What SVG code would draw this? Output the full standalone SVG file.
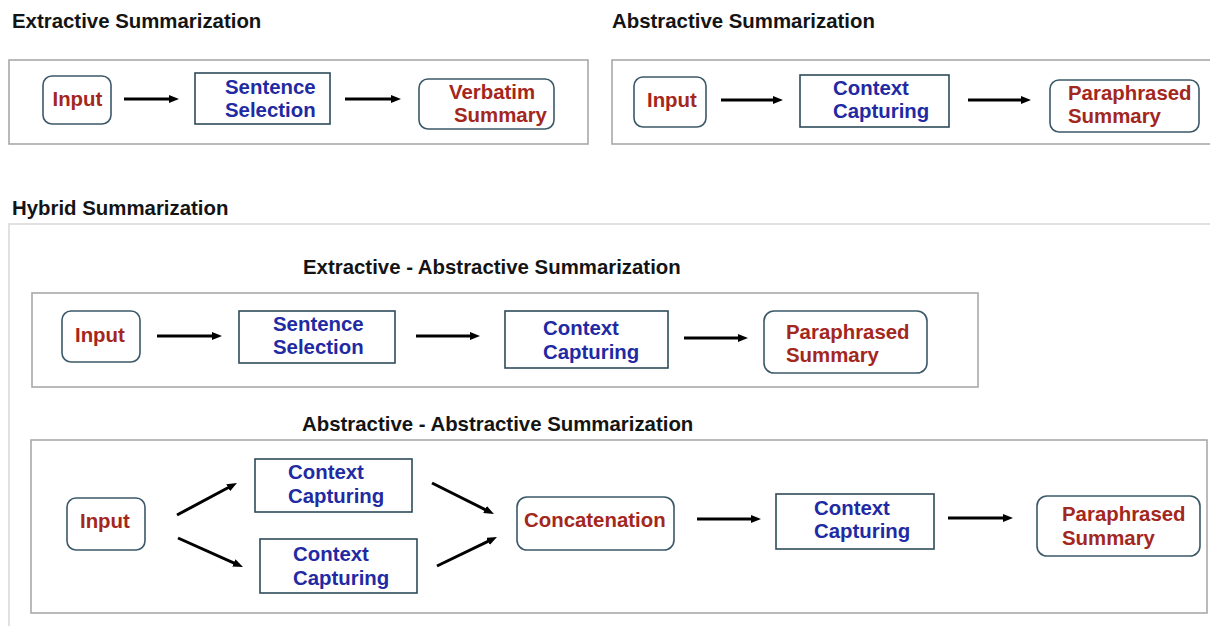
<svg xmlns="http://www.w3.org/2000/svg" width="1210" height="626" viewBox="0 0 1210 626">
<style>
.title{font-family:"Liberation Sans",Arial,sans-serif;font-weight:bold;font-size:20.4px;fill:#141414}
.red{font-family:"Liberation Sans",Arial,sans-serif;font-weight:bold;font-size:20.4px;fill:#a3271d}
.blue{font-family:"Liberation Sans",Arial,sans-serif;font-weight:bold;font-size:20.4px;fill:#1f2aa3}
.outer{fill:none;stroke:#a9a9a9;stroke-width:1.6}
.hyb{fill:none;stroke:#dadada;stroke-width:1.6}
.rnode{fill:#fff;stroke:#3b5868;stroke-width:1.6}
.snode{fill:#fff;stroke:#2e4b5a;stroke-width:1.6}
.arr{fill:none;stroke:#000;stroke-width:3;marker-end:url(#ah)}
</style>
<defs>
<marker id="ah" markerUnits="userSpaceOnUse" viewBox="0 0 10 8" markerWidth="10" markerHeight="8" refX="4" refY="4" orient="auto">
<path d="M0,0 L10,4 L0,8 z" fill="#000"/>
</marker>
</defs>
<rect width="1210" height="626" fill="#fff"/>

<g id="sections">
<text class="title" x="12" y="28">Extractive Summarization</text>
<rect class="outer" x="9" y="60" width="579" height="84"/>
<text class="title" x="612" y="28">Abstractive Summarization</text>
<rect class="outer" x="612" y="60" width="610" height="84"/>
<text class="title" x="12" y="215">Hybrid Summarization</text>
<rect class="hyb" x="9" y="224" width="1220" height="420"/>
<text class="title" x="303" y="274">Extractive - Abstractive Summarization</text>
<rect class="outer" x="32" y="293" width="946" height="94"/>
<text class="title" x="302" y="431">Abstractive - Abstractive Summarization</text>
<rect class="outer" x="31" y="440" width="1176" height="173"/>
</g>

<g id="connectors">
<line class="arr" x1="124" y1="99" x2="173" y2="99"/>
<line class="arr" x1="345" y1="99" x2="395" y2="99"/>
<line class="arr" x1="721" y1="100" x2="777" y2="100"/>
<line class="arr" x1="968" y1="100" x2="1025" y2="100"/>
<line class="arr" x1="157" y1="336" x2="216" y2="336"/>
<line class="arr" x1="416" y1="336" x2="474" y2="336"/>
<line class="arr" x1="684" y1="338" x2="742" y2="338"/>
<line class="arr" x1="177" y1="515" x2="231.7" y2="485.8"/>
<line class="arr" x1="178" y1="538" x2="237.5" y2="564.6"/>
<line class="arr" x1="432" y1="483" x2="488.6" y2="511.3"/>
<line class="arr" x1="437" y1="566" x2="491.6" y2="539.6"/>
<line class="arr" x1="697" y1="519" x2="755" y2="519"/>
<line class="arr" x1="948" y1="518" x2="1007" y2="518"/>
</g>

<g id="ext-input">
<rect class="rnode" x="43" y="76" width="68" height="48" rx="9"/>
<text class="red" x="52.5" y="106">Input</text>
</g>
<g id="ext-sentence">
<rect class="snode" x="195" y="73" width="135" height="51"/>
<text class="blue" x="225" y="94">Sentence</text>
<text class="blue" x="225" y="117">Selection</text>
</g>
<g id="ext-verbatim">
<rect class="rnode" x="419" y="79" width="135" height="50" rx="9"/>
<text class="red" x="449" y="99">Verbatim</text>
<text class="red" x="454" y="122">Summary</text>
</g>

<g id="abs-input">
<rect class="rnode" x="634" y="77" width="72" height="50" rx="9"/>
<text class="red" x="647" y="107">Input</text>
</g>
<g id="abs-context">
<rect class="snode" x="800" y="75" width="149" height="52"/>
<text class="blue" x="833" y="95">Context</text>
<text class="blue" x="833" y="118">Capturing</text>
</g>
<g id="abs-paraphrased">
<rect class="rnode" x="1050" y="80" width="149" height="52" rx="9"/>
<text class="red" x="1068" y="100">Paraphrased</text>
<text class="red" x="1068" y="123">Summary</text>
</g>

<g id="ea-input">
<rect class="rnode" x="62" y="311" width="78" height="51" rx="9"/>
<text class="red" x="75" y="342">Input</text>
</g>
<g id="ea-sentence">
<rect class="snode" x="239" y="311" width="156" height="52"/>
<text class="blue" x="273" y="331">Sentence</text>
<text class="blue" x="273" y="354">Selection</text>
</g>
<g id="ea-context">
<rect class="snode" x="505" y="311" width="163" height="57"/>
<text class="blue" x="543" y="335">Context</text>
<text class="blue" x="543" y="359">Capturing</text>
</g>
<g id="ea-paraphrased">
<rect class="rnode" x="764" y="311" width="163" height="62" rx="10"/>
<text class="red" x="786" y="339">Paraphrased</text>
<text class="red" x="786" y="362">Summary</text>
</g>

<g id="aa-input">
<rect class="rnode" x="67" y="498" width="78" height="52" rx="9"/>
<text class="red" x="80" y="528">Input</text>
</g>
<g id="aa-context-top">
<rect class="snode" x="255" y="459" width="157" height="53"/>
<text class="blue" x="288" y="479">Context</text>
<text class="blue" x="288" y="503">Capturing</text>
</g>
<g id="aa-context-bottom">
<rect class="snode" x="260" y="539" width="157" height="54"/>
<text class="blue" x="293" y="561">Context</text>
<text class="blue" x="293" y="585">Capturing</text>
</g>
<g id="aa-concat">
<rect class="rnode" x="517" y="497" width="157" height="53" rx="10"/>
<text class="red" x="524" y="527">Concatenation</text>
</g>
<g id="aa-context">
<rect class="snode" x="776" y="494" width="158" height="55"/>
<text class="blue" x="814" y="515">Context</text>
<text class="blue" x="814" y="538">Capturing</text>
</g>
<g id="aa-paraphrased">
<rect class="rnode" x="1037" y="496" width="163" height="60" rx="10"/>
<text class="red" x="1062" y="521">Paraphrased</text>
<text class="red" x="1062" y="545">Summary</text>
</g>
</svg>
